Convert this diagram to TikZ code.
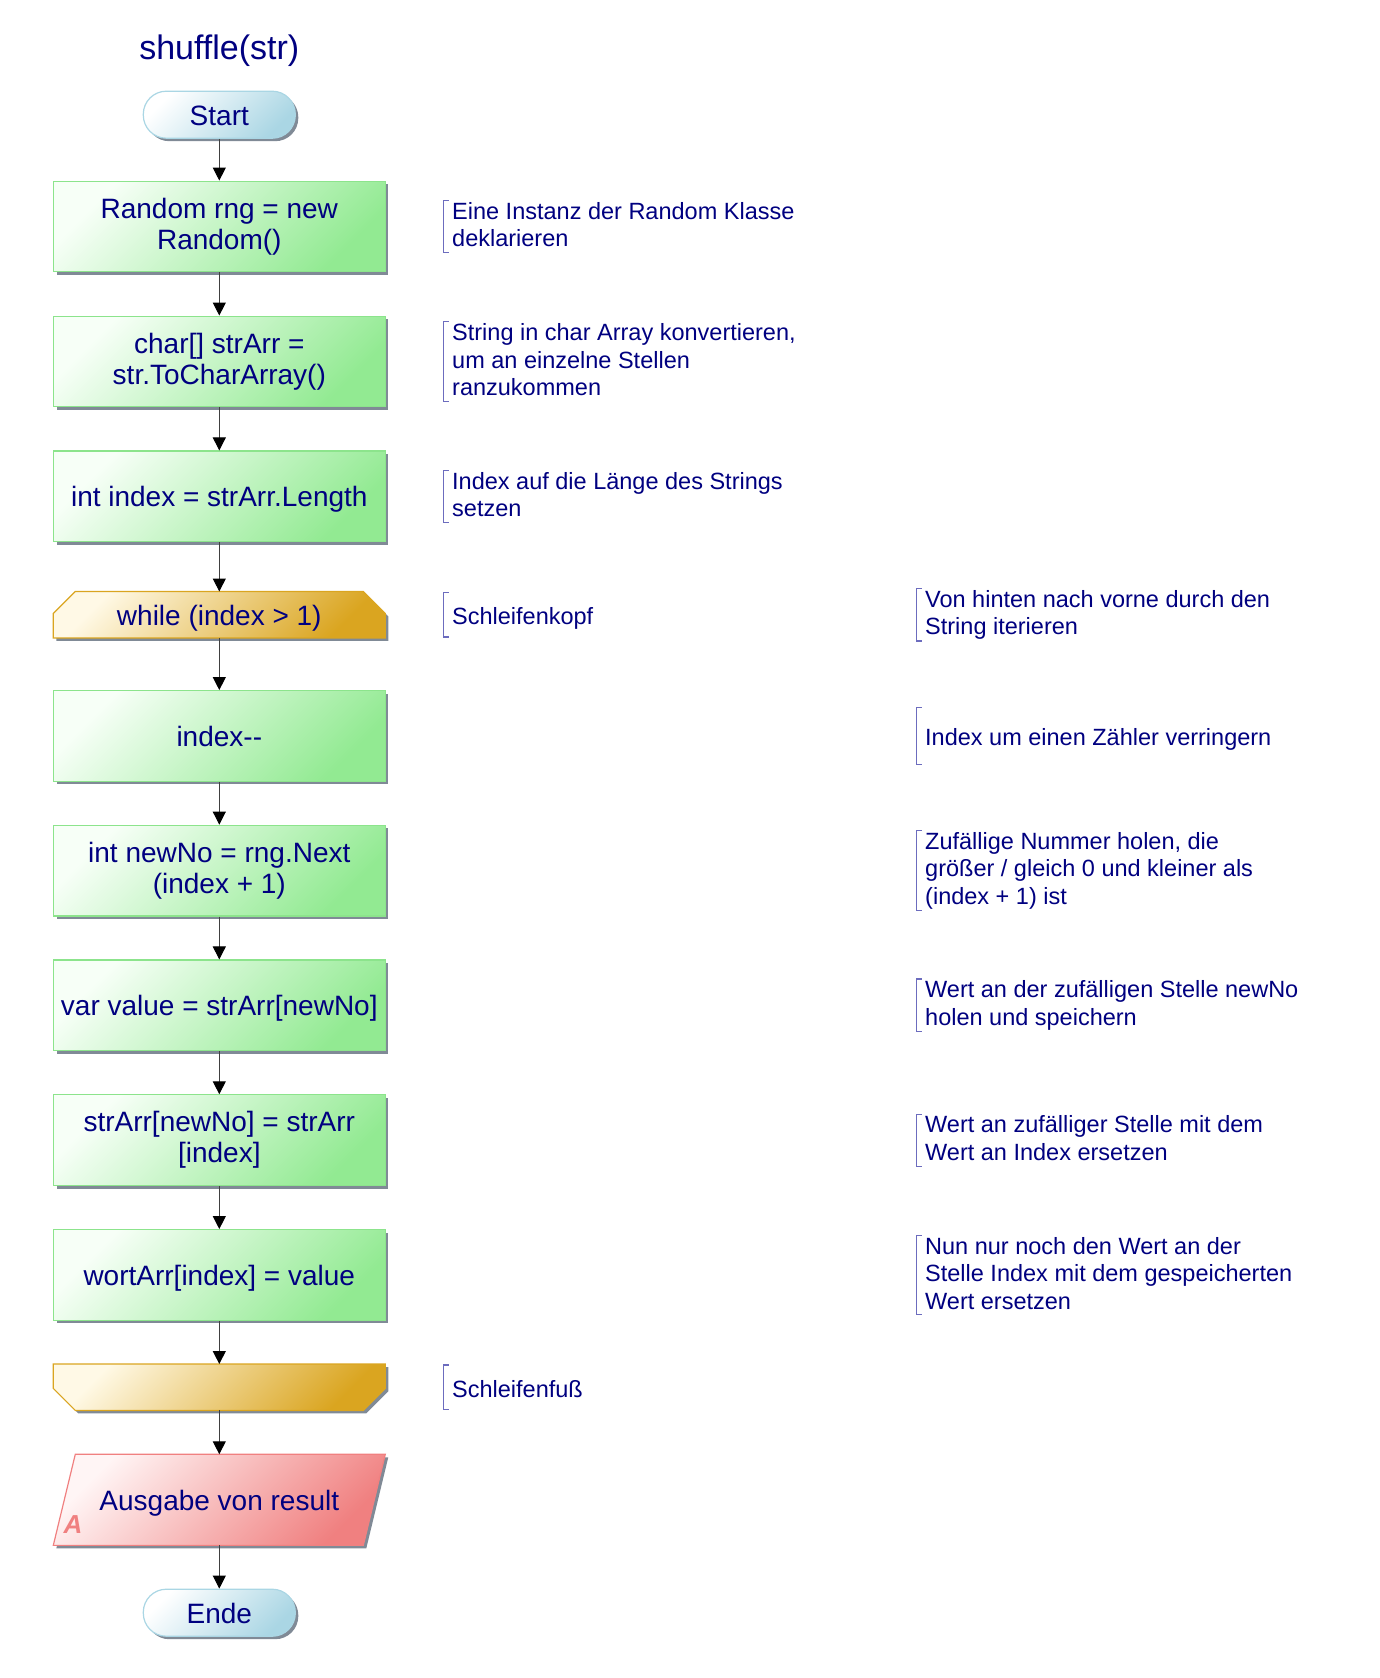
\documentclass[tikz,border=0pt]{standalone}
\usepackage{fontspec}
\setmainfont{Liberation Sans}
\usetikzlibrary{arrows.meta,shadows}

\definecolor{navytext}{RGB}{0,0,128}
\definecolor{procgreen}{RGB}{146,234,146}
\definecolor{procedge}{RGB}{140,228,140}
\definecolor{termblue}{RGB}{170,214,228}
\definecolor{loopgold}{RGB}{218,165,32}
\definecolor{loopcream}{RGB}{255,249,230}
\definecolor{outred}{RGB}{240,128,128}
\definecolor{notebar}{RGB}{108,108,190}
\definecolor{shadowgray}{RGB}{128,138,150}

\pgfdeclarelayer{shapes}
\pgfsetlayers{shapes,main}

\begin{document}
\begin{tikzpicture}[x=1pt,y=-1pt,
    every node/.style={text=navytext},
    boxshadow/.style={drop shadow={shadow xshift=3pt,shadow yshift=-3pt,fill=shadowgray,opacity=1}},
    boxfont/.style={font=\fontsize{28}{31}\selectfont,
        execute at begin node=\rule{0pt}{27pt},execute at end node=\rule[-6pt]{0pt}{6pt}},
    term/.style={draw=termblue,line width=1.2pt,top color=white,bottom color=termblue,shading angle=45,
        rounded corners=23pt,minimum width=152pt,minimum height=47pt,inner ysep=0pt,boxshadow,boxfont},
    proc/.style={draw=procedge,line width=1.2pt,top color=green!3!white,bottom color=procgreen,shading angle=45,
        minimum width=331.6pt,minimum height=90.7pt,inner sep=0pt,align=center,boxshadow,boxfont},
    loopnode/.style={minimum width=331.6pt,minimum height=46pt,inner sep=0pt,boxfont},
    loopfill/.style={draw=loopgold,line width=1.2pt,top color=loopcream,bottom color=loopgold,shading angle=45,boxshadow},
    outfill/.style={draw=outred,line width=1.2pt,top color=red!4!white,bottom color=outred,shading angle=45,boxshadow},
    flow/.style={draw=black!75,line width=1pt,-{Triangle[width=13pt,length=13pt,color=black]}},
    note/.style={anchor=west,inner xsep=8.5pt,inner ysep=1.5pt,minimum height=44pt,align=left,
        font=\fontsize{23.5}{27.5}\selectfont,
        execute at begin node=\rule{0pt}{24pt},execute at end node=\rule[-4pt]{0pt}{4pt}},
    bracket/.style={draw=notebar,line width=1.3pt}]

    \useasboundingbox (0,0) rectangle (1380,1678);
    \def\xc{219.3}

    \node[font=\fontsize{34}{38}\selectfont] (title) at (\xc,51) {shuffle(str)};

    % Ablauf
    \node[term] (start) at (\xc,114.7) {Start};
    \node[proc] (rng) at (\xc,226.5) {Random rng = new\\Random()};
    \node[proc] (arr) at (\xc,361.5) {char[] strArr =\\str.ToCharArray()};
    \node[proc] (idx) at (\xc,496.4) {int index = strArr.Length};
    \node[loopnode] (head) at (\xc,614.7) {while (index > 1)};
    \node[proc] (dec) at (\xc,736) {index-{}-};
    \node[proc] (newno) at (\xc,870.6) {int newNo = rng.Next\\(index + 1)};
    \node[proc] (val) at (\xc,1005.4) {var value = strArr[newNo]};
    \node[proc] (swap) at (\xc,1140.2) {strArr[newNo] = strArr\\ {[index]}};
    \node[proc] (wort) at (\xc,1275) {wortArr[index] = value};
    \node[loopnode] (foot) at (\xc,1387.2) {};
    \node[loopnode,minimum height=90.7pt] (out) at (\xc,1499.8) {Ausgabe von result};
    \node[term] (ende) at (\xc,1612.7) {Ende};
    \node[font=\fontsize{26}{26}\selectfont\bfseries\itshape,text=outred] (outtag) at (73,1525) {A};

    \begin{pgfonlayer}{shapes}
        \path[loopfill] ([xshift=22pt]head.north west) -- ([xshift=-22pt]head.north east)
            -- ([yshift=-22pt]head.north east) -- (head.south east) -- (head.south west)
            -- ([yshift=-22pt]head.north west) -- cycle;
        \path[loopfill] (foot.north west) -- (foot.north east) -- ([yshift=22pt]foot.south east)
            -- ([xshift=-22pt]foot.south east) -- ([xshift=22pt]foot.south west)
            -- ([yshift=22pt]foot.south west) -- cycle;
        \path[outfill] ([xshift=22pt]out.north west) -- (out.north east)
            -- ([xshift=-22pt]out.south east) -- (out.south west) -- cycle;
    \end{pgfonlayer}

    \foreach \a/\b in {start/rng,rng/arr,arr/idx,idx/head,head/dec,dec/newno,newno/val,
        val/swap,swap/wort,wort/foot,foot/out,out/ende}
        \draw[flow] (\a) -- (\b);

    % Kommentare
    \coordinate (col1) at (443.5,0);
    \coordinate (col2) at (916.5,0);
    \node[note] (n-rng) at (col1 |- rng) {Eine Instanz der Random Klasse\\deklarieren};
    \node[note] (n-arr) at (col1 |- arr) {String in char Array konvertieren,\\um an einzelne Stellen\\ranzukommen};
    \node[note] (n-idx) at (col1 |- idx) {Index auf die Länge des Strings\\setzen};
    \node[note] (n-head) at (col1 |- head) {Schleifenkopf};
    \node[note] (n-iter) at (col2 |- head) {Von hinten nach vorne durch den\\String iterieren};
    \node[note,minimum height=56pt] (n-dec) at (col2 |- dec) {Index um einen Zähler verringern};
    \node[note] (n-newno) at (col2 |- newno) {Zufällige Nummer holen, die\\größer / gleich 0 und kleiner als\\(index + 1) ist};
    \node[note] (n-val) at (col2 |- val) {Wert an der zufälligen Stelle newNo\\holen und speichern};
    \node[note] (n-swap) at (col2 |- swap) {Wert an zufälliger Stelle mit dem\\Wert an Index ersetzen};
    \node[note] (n-wort) at (col2 |- wort) {Nun nur noch den Wert an der\\Stelle Index mit dem gespeicherten\\Wert ersetzen};
    \node[note] (n-foot) at (col1 |- foot) {Schleifenfuß};

    \foreach \c in {n-rng,n-arr,n-idx,n-head,n-iter,n-dec,n-newno,n-val,n-swap,n-wort,n-foot}
        \draw[bracket] ([xshift=5pt]\c.north west) -- (\c.north west) -- (\c.south west) -- ([xshift=5pt]\c.south west);
\end{tikzpicture}
\end{document}
